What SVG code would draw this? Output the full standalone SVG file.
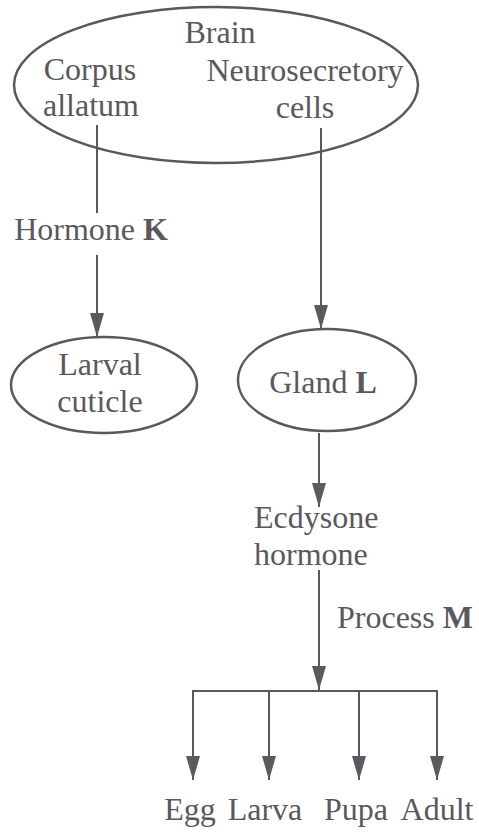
<svg xmlns="http://www.w3.org/2000/svg" width="479" height="836" viewBox="0 0 479 836">
<defs>
<marker id="arr" viewBox="0 0 24 14" refX="24" refY="7" markerWidth="24" markerHeight="14" markerUnits="userSpaceOnUse" orient="auto">
<path d="M0,0 L24,7 L0,14 z" fill="#5a5a60"/>
</marker>
<style>
.t{font-family:'Liberation Serif','DejaVu Serif',serif;font-size:32px;fill:#58585e}
.b{font-weight:bold}
.n{fill:none;stroke:#58585e;stroke-width:2.5}
.c{fill:none;stroke:#58585e;stroke-width:2}
</style>
</defs>
<rect width="479" height="836" fill="#fff"/>
<g id="brain">
<ellipse class="n" cx="216" cy="85" rx="202" ry="78"/>
<text class="t" x="220" y="43" text-anchor="middle">Brain</text>
<text class="t" x="90" y="80" text-anchor="middle">Corpus</text>
<text class="t" x="91" y="116" text-anchor="middle">allatum</text>
<text class="t" x="305" y="81" text-anchor="middle">Neurosecretory</text>
<text class="t" x="305" y="118" text-anchor="middle">cells</text>
</g>
<g id="hormoneK">
<text class="t" x="91" y="240" text-anchor="middle">Hormone <tspan class="b">K</tspan></text>
</g>
<g id="larval">
<ellipse class="n" cx="104" cy="385" rx="93" ry="48"/>
<text class="t" x="100" y="375" text-anchor="middle">Larval</text>
<text class="t" x="100" y="412" text-anchor="middle">cuticle</text>
</g>
<g id="glandL">
<ellipse class="n" cx="327" cy="380" rx="89" ry="51"/>
<text class="t" x="323" y="393" text-anchor="middle">Gland <tspan class="b">L</tspan></text>
</g>
<g id="ecdysone">
<text class="t" x="254" y="528">Ecdysone</text>
<text class="t" x="254" y="565">hormone</text>
</g>
<g id="processM">
<text class="t" x="337" y="628">Process <tspan class="b">M</tspan></text>
</g>
<g id="egg"><text class="t" x="190" y="820" text-anchor="middle">Egg</text></g>
<g id="larva"><text class="t" x="265" y="820" text-anchor="middle">Larva</text></g>
<g id="pupa"><text class="t" x="356" y="820" text-anchor="middle">Pupa</text></g>
<g id="adult"><text class="t" x="437" y="820" text-anchor="middle">Adult</text></g>
<g id="connectors">
<line class="c" x1="97" y1="125" x2="97" y2="213"/>
<line class="c" x1="97" y1="255" x2="97" y2="337" marker-end="url(#arr)"/>
<line class="c" x1="321" y1="128" x2="321" y2="329" marker-end="url(#arr)"/>
<line class="c" x1="319" y1="433" x2="319" y2="507" marker-end="url(#arr)"/>
<line class="c" x1="319" y1="570" x2="319" y2="690" marker-end="url(#arr)"/>
<polyline class="c" points="193,780 193,691 437,691 437,780"/>
<line class="c" x1="193" y1="691" x2="193" y2="780" marker-end="url(#arr)"/>
<line class="c" x1="269" y1="691" x2="269" y2="780" marker-end="url(#arr)"/>
<line class="c" x1="359" y1="691" x2="359" y2="780" marker-end="url(#arr)"/>
<line class="c" x1="437" y1="691" x2="437" y2="780" marker-end="url(#arr)"/>
</g>
</svg>
